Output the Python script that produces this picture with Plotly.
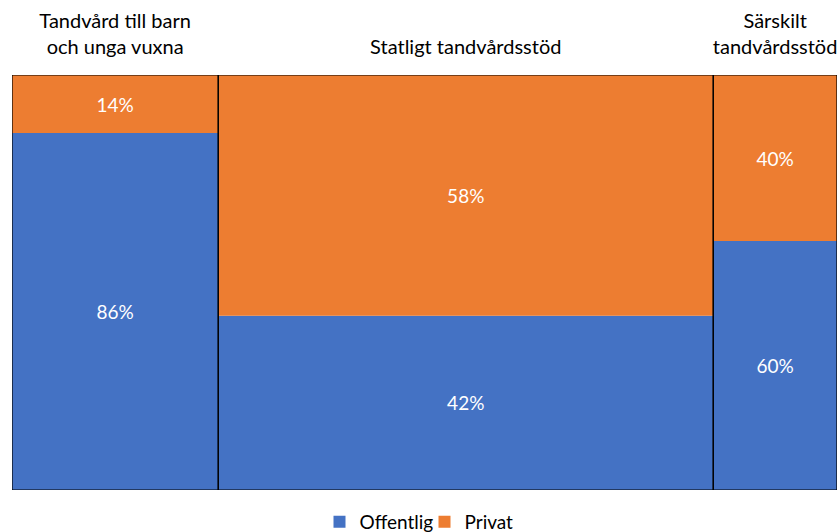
import numpy as np
import plotly.graph_objects as go

categories = ["Tandvård till barn<br>och unga vuxna", "Statligt tandvårdsstöd", "Särskilt<br>tandvårdsstöd"]
widths = [25, 60, 15]
offentlig = [86, 42, 60]
privat = [14, 58, 40]

blue = "#4472C4"
orange = "#ED7D31"

w = np.array(widths, dtype=float)
left = np.concatenate([[0], np.cumsum(w)[:-1]])
mid = left + w / 2
total = np.array(offentlig) + np.array(privat)

fig = go.Figure()
fig.add_trace(go.Bar(x=mid, y=offentlig, base=0, width=w, name="Offentlig",
                     marker=dict(color=blue, line=dict(width=0)),
                     text=[f"{v}%" for v in offentlig], textposition="inside",
                     insidetextanchor="middle", textangle=0,
                     textfont=dict(color="white", size=19)))
fig.add_trace(go.Bar(x=mid, y=privat, base=offentlig, width=w, name="Privat",
                     marker=dict(color=orange, line=dict(width=0)),
                     text=[f"{v}%" for v in privat], textposition="inside",
                     insidetextanchor="middle", textangle=0,
                     textfont=dict(color="white", size=19)))
# column outlines
fig.add_trace(go.Bar(x=mid, y=total, base=0, width=w, showlegend=False,
                     marker=dict(color="rgba(0,0,0,0)", line=dict(color="black", width=1.2)),
                     hoverinfo="skip"))

fig.update_layout(
    barmode="overlay",
    width=839, height=532,
    margin=dict(l=12, r=2, t=75, b=42, autoexpand=False),
    plot_bgcolor="white", paper_bgcolor="white",
    font=dict(family="Lato, Open Sans, sans-serif", size=20, color="black"),
    legend=dict(orientation="h", x=0.5, xanchor="center", y=-0.077, yanchor="middle",
                font=dict(size=19), traceorder="normal", itemwidth=30, entrywidth=60),
    uniformtext=dict(mode=False),
)
fig.update_xaxes(range=[0, 100], side="top", tickmode="array", tickvals=mid,
                 ticktext=categories, showgrid=False, zeroline=False, ticks="",
                 tickfont=dict(size=20), ticklabelstandoff=16, showline=False)
fig.update_yaxes(range=[0, 100], showticklabels=False, showgrid=False,
                 zeroline=False, showline=False)
fig.write_html("out.html", config={"displayModeBar": False},
               post_script="document.body.style.margin='0';")
